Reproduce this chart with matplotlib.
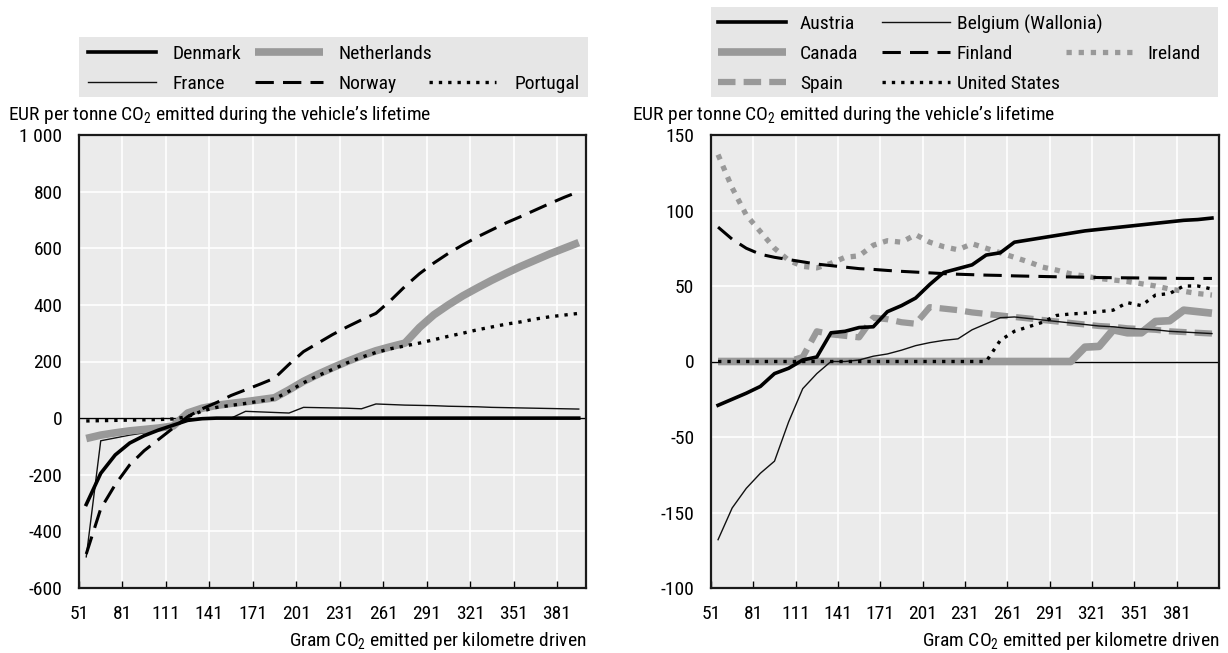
import matplotlib
matplotlib.use("Agg")
import matplotlib.pyplot as plt
import matplotlib.font_manager as fm
from matplotlib.lines import Line2D
from matplotlib.patches import Rectangle

# pick a condensed font if one is there, otherwise a plain narrow-ish one
names = {f.name for f in fm.fontManager.ttflist}
font, fsize = None, 12
for c in ['Roboto Condensed', 'Liberation Sans Narrow', 'Open Sans Condensed',
          'DejaVu Sans Condensed', 'Arial Narrow', 'Nimbus Sans Narrow']:
    if c in names:
        font, fsize = c, 14
        break
if font is None:
    font = 'Liberation Sans' if 'Liberation Sans' in names else 'DejaVu Sans'
plt.rcParams['font.family'] = [font, 'DejaVu Sans']
plt.rcParams['mathtext.fontset'] = 'custom'
plt.rcParams['mathtext.rm'] = font
plt.rcParams['mathtext.default'] = 'regular'

# left panel data
x_left = [56, 66, 76, 86, 96, 106, 116, 126, 136, 146, 156, 166, 176, 186, 196, 206, 216, 226,
          236, 246, 256, 266, 276, 286, 296, 306, 316, 326, 336, 346, 356, 366, 376, 386, 396]
denmark = [-305, -195, -130, -88, -62, -42, -25, -8, -2, 0, 0, 0, 0, 0, 0, 0, 0, 0,
           0, 0, 0, 0, 0, 0, 0, 0, 0, 0, 0, 0, 0, 0, 0, 0, 0]
france = [-490, -80, -70, -60, -52, -44, -32, -5, 0, 0, 0, 24, 22, 20, 18, 38, 37, 36,
          35, 33, 50, 48, 46, 45, 44, 42, 41, 40, 38, 37, 36, 35, 34, 33, 32]
netherlands = [-72, -60, -52, -45, -40, -35, -28, 18, 35, 45, 52, 58, 65, 72, 100, 130, 155, 178,
               200, 220, 238, 252, 265, 320, 365, 400, 432, 460, 487, 512, 536, 558, 580, 600, 620]
norway = [-480, -320, -235, -165, -115, -75, -35, 5, 33, 55, 80, 100, 120, 141, 190, 235, 265, 295,
          322, 347, 370, 415, 465, 510, 548, 582, 612, 640, 665, 690, 712, 735, 758, 780, 800]
portugal = [-10, -9, -8, -7, -6, -5, -3, 5, 25, 38, 45, 52, 60, 68, 95, 125, 150, 172,
            195, 215, 232, 245, 255, 265, 277, 289, 300, 312, 322, 332, 340, 350, 358, 364, 370]

# right panel data
x_right = [56, 66, 76, 86, 96, 106, 116, 126, 136, 146, 156, 166, 176, 186, 196, 206, 216, 226,
           236, 246, 256, 266, 276, 286, 296, 306, 316, 326, 336, 346, 356, 366, 376, 386, 396, 406]
austria = [-29, -25, -21, -16.5, -8, -4.5, 1, 3, 19, 20, 22.5, 23, 33, 37, 42, 51, 59, 61.5,
           64, 70.5, 72, 79, 80.5, 82, 83.5, 85, 86.5, 87.5, 88.5, 89.5, 90.5, 91.5, 92.5, 93.5, 94, 95]
belgium = [-118, -97, -84, -74, -66, -40, -18, -8, 0, 0, 1, 3.5, 5, 7.5, 10.5, 12.5, 14, 15,
           21, 25, 29, 29.5, 28.5, 27.5, 26.5, 25.5, 24.5, 23.5, 23, 22, 21.5, 21, 20, 19.5, 19, 18.5]
canada = [0, 0, 0, 0, 0, 0, 0, 0, 0, 0, 0, 0, 0, 0, 0, 0, 0, 0,
          0, 0, 0, 0, 0, 0, 0, 0, 9.5, 10, 21, 19, 19, 26.5, 27, 34, 33, 32]
finland = [89, 81, 75, 71, 69, 67.5, 66, 64.5, 63.5, 62.5, 61.5, 61, 60.3, 59.7, 59.2, 58.7, 58.2, 57.8,
           57.5, 57.2, 57, 56.7, 56.5, 56.3, 56.1, 56, 55.8, 55.6, 55.5, 55.4, 55.3, 55.2, 55.1, 55, 55, 55]
ireland = [137, 115, 97, 86, 75, 67, 63, 62, 65, 69, 70, 77, 80, 79, 84, 79, 76, 74,
           78, 75, 72, 69, 66, 62.5, 60.5, 58, 56.5, 55, 54, 53, 51.5, 50, 48, 46.5, 45, 44]
spain = [0, 0, 0, 0, 0, 0, 3, 20, 18, 17, 16, 29, 28, 26, 25, 36, 35, 34,
         32.5, 31.5, 30.5, 29.5, 28.5, 27.5, 26.5, 25.5, 24.5, 23.5, 23, 22, 21.5, 21, 20, 19.5, 19, 18.5]
united_states = [0, 0, 0, 0, 0, 0, 0, 0, 0, 0, 0, 0, 0, 0, 0, 0, 0, 0,
                 0, 0, 14, 20, 23, 26, 30.5, 31.5, 32, 33, 34, 39, 37, 44, 45, 50, 50, 48]

x_ticks = [51, 81, 111, 141, 171, 201, 231, 261, 291, 321, 351, 381]
left_yticks = [1000, 800, 600, 400, 200, 0, -200, -400, -600]
left_ylabels = ['1 000', '800', '600', '400', '200', '0', '-200', '-400', '-600']
right_yticks = [150, 100, 50, 0, -50, -100, -150]
right_ylabels = ['150', '100', '50', '0', '-50', '-150', '-100']

GREY = '#999999'
BG = '#ebebeb'
ylab = 'EUR per tonne CO$_2$ emitted during the vehicle\u2019s lifetime'
xlab = 'Gram CO$_2$ emitted per kilometre driven'

# line styles
thick_black = dict(color='black', lw=2.6)
thin_black = dict(color='#111111', lw=1.0)
thick_grey = dict(color=GREY, lw=5.5, solid_capstyle='butt')
dash_black = dict(color='black', lw=2.2, dashes=(6, 3))
dot_black = dict(color='black', lw=2.4, dashes=(1, 1.8))
dash_grey = dict(color=GREY, lw=4.5, dashes=(2.8, 1.3))
dot_grey = dict(color=GREY, lw=3.8, dashes=(1, 1.3))

W, H = 1228, 653
fig = plt.figure(figsize=(W / 100, H / 100), dpi=100)


def fx(px):
    return px / W


def fy(py):
    return 1 - py / H


ax1 = fig.add_axes([fx(79), fy(588), (586 - 79) / W, (588 - 135) / H])
ax2 = fig.add_axes([fx(711), fy(588), (1219 - 711) / W, (588 - 135) / H])


def style(ax, xmax, yticks, ylabels, ylim):
    ax.set_facecolor(BG)
    ax.set_xlim(51, xmax)
    ax.set_ylim(*ylim)
    ax.set_xticks(x_ticks)
    ax.set_yticks(yticks)
    ax.set_yticklabels(ylabels)
    ax.grid(True, color='white', lw=1.2)
    ax.set_axisbelow(True)
    ax.tick_params(axis='x', direction='in', length=5, width=1, color='black',
                   labelsize=fsize, pad=12)
    ax.tick_params(axis='y', length=0, labelsize=fsize, pad=12)
    for s in ax.spines.values():
        s.set_color('#1a1a1a')
        s.set_linewidth(1.6)
    ax.axhline(0, color='black', lw=1, zorder=1.5)


style(ax1, 401, left_yticks, left_ylabels, (-600, 1000))
style(ax2, 411, right_yticks, right_ylabels, (-150, 150))

# left lines
ax1.plot(x_left, france, **thin_black)
ax1.plot(x_left, netherlands, **thick_grey)
ax1.plot(x_left, norway, **dash_black)
ax1.plot(x_left, portugal, **dot_black)
ax1.plot(x_left, denmark, **thick_black)

# right lines
ax2.plot(x_right, canada, **thick_grey)
ax2.plot(x_right, spain, **dash_grey)
ax2.plot(x_right, ireland, **dot_grey)
ax2.plot(x_right, finland, **dash_black)
ax2.plot(x_right, belgium, **thin_black)
ax2.plot(x_right, united_states, **dot_black)
ax2.plot(x_right, austria, **thick_black)


# legends drawn by hand so the columns sit where the reference has them
def legend_box(x0, y0, x1, y1):
    fig.add_artist(Rectangle((fx(x0), fy(y1)), (x1 - x0) / W, (y1 - y0) / H,
                             transform=fig.transFigure, facecolor='#e6e6e6',
                             edgecolor='none', zorder=0))


def legend_entry(hx0, hx1, y, tx, label, st):
    fig.add_artist(Line2D([fx(hx0), fx(hx1)], [fy(y), fy(y)], transform=fig.transFigure, **st))
    fig.text(fx(tx), fy(y), label, fontsize=fsize, va='center_baseline', ha='left')


legend_box(79, 37, 588, 97)
legend_entry(88, 156, 52, 172, 'Denmark', thick_black)
legend_entry(255, 323, 52, 338, 'Netherlands', thick_grey)
legend_entry(88, 156, 82, 172, 'France', thin_black)
legend_entry(255, 323, 82, 338, 'Norway', dash_black)
legend_entry(429, 496, 82, 515, 'Portugal', dot_black)

legend_box(711, 7, 1218, 97)
legend_entry(718, 786, 22, 800, 'Austria', thick_black)
legend_entry(882, 950, 22, 957, 'Belgium (Wallonia)', thin_black)
legend_entry(718, 786, 52, 800, 'Canada', thick_grey)
legend_entry(882, 950, 52, 957, 'Finland', dash_black)
legend_entry(1066, 1135, 52, 1147, 'Ireland', dot_grey)
legend_entry(718, 786, 82, 800, 'Spain', dash_grey)
legend_entry(882, 950, 82, 957, 'United States', dot_black)

fig.text(fx(8), fy(120), ylab, fontsize=fsize, va='baseline', ha='left')
fig.text(fx(632), fy(120), ylab, fontsize=fsize, va='baseline', ha='left')
fig.text(fx(586), fy(646), xlab, fontsize=fsize, va='baseline', ha='right')
fig.text(fx(1219), fy(646), xlab, fontsize=fsize, va='baseline', ha='right')

fig.savefig('out.png', dpi=100, facecolor='white')
